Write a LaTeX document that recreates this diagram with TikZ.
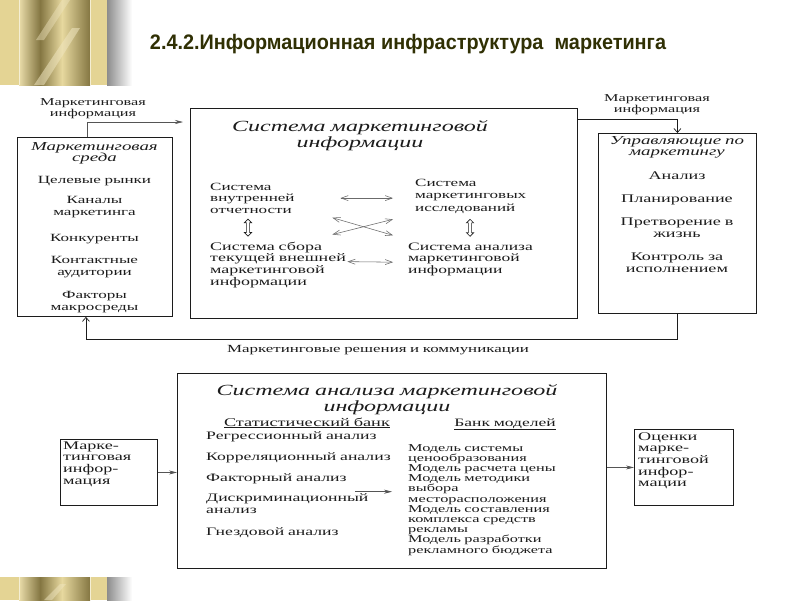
\documentclass[tikz,border=0pt]{standalone}
\usepackage{fontspec}
\setmainfont{Liberation Serif}
\newfontfamily\scan[FakeStretch=1.55]{Liberation Serif}
\newfontfamily\titlefont[FakeStretch=0.945]{Liberation Sans}
\usetikzlibrary{arrows.meta,calc,shapes.arrows}
\definecolor{ink}{RGB}{28,28,28}
\definecolor{gold}{RGB}{228,212,148}
\definecolor{olive}{RGB}{132,118,66}
\definecolor{titlecol}{RGB}{48,48,4}
\tikzset{blk/.style={draw=ink, line width=0.9pt, inner sep=0pt, anchor=north west},
  item/.style={font=\scan\fontsize{11}{12.5}\selectfont, text=ink, inner sep=0pt, text width=150pt, align=center, anchor=base},
  boxhead/.style={font=\scan\itshape\fontsize{12.2}{11.5}\selectfont, text=ink, inner sep=0pt, text width=150pt, align=center, anchor=base},
  bighead/.style={font=\scan\itshape\fontsize{15.5}{16.5}\selectfont, text=ink, inner sep=0pt, text width=380pt, align=center, anchor=base},
  entrytxt/.style={font=\scan\fontsize{11}{11.7}\selectfont, text=ink, inner sep=0pt, align=left, anchor=base west},
  lbl/.style={font=\scan\fontsize{10.5}{11}\selectfont, text=ink, inner sep=0pt, text width=320pt, align=center, anchor=base},
  pin/.style={-{Stealth[length=8pt,width=4pt]}, draw=ink!75, line width=0.6pt},
  barb/.style={-{Straight Barb[length=4pt,width=7pt]}, draw=ink, line width=0.7pt},
  twoway/.style={{Straight Barb[length=7pt,width=5pt]}-{Straight Barb[length=7pt,width=5pt]}, draw=ink!65, line width=0.55pt},
  updown/.style={shape=double arrow, draw=ink, line width=0.6pt, fill=white, inner sep=1.3pt, minimum height=17pt, double arrow head extend=2pt, rotate=90}}

\begin{document}
\begin{tikzpicture}[x=1pt, y=-1pt]
  \useasboundingbox (0,0) rectangle (800,600);
  \fill[white] (0,0) rectangle (800,600);
  % gold strip, top and bottom
  \foreach \ya/\yb in {0/85, 577/600} {
    \fill[gold] (0,\ya) rectangle (107,\yb);
    \shade[left color=gold!80!white, right color=olive] (19,\ya) rectangle (40,\yb);
    \shade[left color=olive, right color=gold!90!white] (40,\ya) rectangle (62,\yb);
    \shade[left color=gold!90!white, right color=olive] (62,\ya) rectangle (90,\yb);
    \draw[gold!40!white, line width=0.8pt] (19,\ya) -- (19,\yb) (90,\ya) -- (90,\yb);
    \shade[left color=black!45, right color=white] (107,\ya) rectangle (132,\yb);
  }
  \fill[gold!60!white, opacity=0.55] (34,85) -- (44,85) -- (80,28) -- (72,28) -- cycle;
  \fill[gold!60!white, opacity=0.45] (36,40) -- (44,40) -- (70,0) -- (62,0) -- cycle;
  \fill[gold!60!white, opacity=0.5] (44,600) -- (52,600) -- (66,584) -- (60,584) -- cycle;
  \node[font=\titlefont\bfseries\fontsize{21}{24}\selectfont, text=titlecol, inner sep=0pt] (title) at (408,44) {2.4.2.Информационная инфраструктура\ \ маркетинга};

  % upper scheme
  \node[blk, minimum width=155pt, minimum height=179pt] (env) at (17,137) {};
  \node[blk, minimum width=387pt, minimum height=210pt] (mis) at (190,108) {};
  \node[blk, minimum width=158pt, minimum height=180pt] (mgr) at (598,133) {};
  % marketing environment
  \node[boxhead] (envhd) at (94.5,150) {Маркетинговая\\среда};
  \node[item] (mkts) at (94.5,183) {Целевые рынки};
  \node[item] (chan) at (94.5,203) {Каналы\\маркетинга};
  \node[item] (rivals) at (94.5,241) {Конкуренты};
  \node[item] (aud) at (94.5,263) {Контактные\\аудитории};
  \node[item] (macro) at (94.5,298) {Факторы\\макросреды};
  % information system
  \node[bighead] (mishd) at (360,131) {Система маркетинговой\\информации};
  \node[entrytxt, text width=122pt] (intl) at (210,190) {Система\\внутренней\\отчетности};
  \node[entrytxt, text width=130pt, font=\scan\fontsize{11}{12.5}\selectfont] (rsch) at (415,186) {Система\\маркетинговых\\исследований};
  \node[entrytxt, text width=137pt, font=\scan\fontsize{11.6}{11.7}\selectfont] (intel) at (210,250) {Система сбора\\текущей внешней\\маркетинговой\\информации};
  \node[entrytxt, text width=140pt, font=\scan\fontsize{11.3}{11.7}\selectfont] (anl) at (408,250) {Система анализа\\маркетинговой\\информации};
  \draw[twoway, shorten <=8pt, shorten >=22pt] (intl.east) -- (intl.east -| rsch.west);
  \draw[twoway] ($(intl.south east)+(0,4)$) -- ($(anl.north west)+(-15,-7)$);
  \draw[twoway] ($(intel.north east)+(-15,-7)$) -- ($(rsch.south west)+(-22,6)$);
  \draw[twoway] ($(intel.east)+(0,-3)$) -- ($(anl.west)+(-15,3)$);
  \node[updown] (ud1) at ($(intl.south west)!0.5!(intel.north west)+(38,0)$) {};
  \node[updown] (ud2) at ($(rsch.south west)!0.5!(anl.north west)+(58.5,0)$) {};
  % managers
  \node[boxhead] (mgrhd) at (677,144) {Управляющие по\\маркетингу};
  \node[item, font=\scan\fontsize{11.7}{12.2}\selectfont] (anlz) at (677,179) {Анализ};
  \node[item, font=\scan\fontsize{11.7}{12.2}\selectfont] (plan) at (677,202) {Планирование};
  \node[item, font=\scan\fontsize{11.7}{12.2}\selectfont] (impl) at (677,225) {Претворение в\\жизнь};
  \node[item, font=\scan\fontsize{11.7}{12.2}\selectfont] (ctrl) at (677,260) {Контроль за\\исполнением};
  % flows
  \node[lbl] (infoL) at (93,105) {Маркетинговая\\информация};
  \node[lbl] (infoR) at (657,101) {Маркетинговая\\информация};
  \node[lbl, font=\scan\fontsize{10.9}{11}\selectfont] (dec) at (378,352) {Маркетинговые решения и коммуникации};
  \draw[pin, shorten >=7pt] ($(env.north)+(-8,0)$) |- ($(mis.north west)+(0,14)$);
  \draw[barb] ($(mis.north east)+(0,11)$) -| (mgr.north);
  \draw[barb] (mgr.south) -- ++(0,25) -| ($(env.south)+(-9,0)$);

  % lower scheme
  \node[blk, minimum width=429pt, minimum height=195pt] (sam) at (177,373) {};
  \node[blk, minimum width=97pt, minimum height=66pt] (inf) at (60,439) {};
  \node[blk, minimum width=99pt, minimum height=76pt] (est) at (634,429) {};
  \node[bighead] (samhd) at (387,395) {Система анализа маркетинговой\\информации};
  \node[item, font=\scan\fontsize{11.8}{12}\selectfont] (stath) at (299,426) {\underline{Статистический банк}};
  \node[item, font=\scan\fontsize{11.3}{12}\selectfont] (modh) at (505,426) {\underline{Банк моделей}};
  \node[entrytxt, text width=198pt, font=\scan\fontsize{11.4}{12}\selectfont] (stats) at (206,439)
    {Регрессионный анализ\\[9pt]Корреляционный анализ\\[9pt]Факторный анализ\\[8pt]Дискриминационный\\анализ\\[10pt]Гнездовой анализ};
  \node[entrytxt, text width=190pt, font=\scan\fontsize{10.5}{10.2}\selectfont] (models) at (408,451)
    {Модель системы\\ценообразования\\Модель расчета цены\\Модель методики\\выбора\\месторасположения\\Модель составления\\комплекса средств\\рекламы\\Модель разработки\\рекламного бюджета};
  \draw[pin] ($(models.west)+(-53,-8)$) -- ($(models.west)+(-16,-8)$);
  \node[entrytxt, text width=90pt, font=\scan\fontsize{11.7}{11.7}\selectfont] (inftxt) at (63,449) {Марке-\\тинговая\\инфор-\\мация};
  \node[entrytxt, text width=92pt, font=\scan\fontsize{11.7}{11.7}\selectfont] (esttxt) at (638,440) {Оценки\\марке-\\тинговой\\инфор-\\мации};
  \draw[pin] (inf.east) -- (inf.east -| sam.west);
  \draw[pin] (sam.east |- est.west) -- (est.west);
\end{tikzpicture}
\end{document}
